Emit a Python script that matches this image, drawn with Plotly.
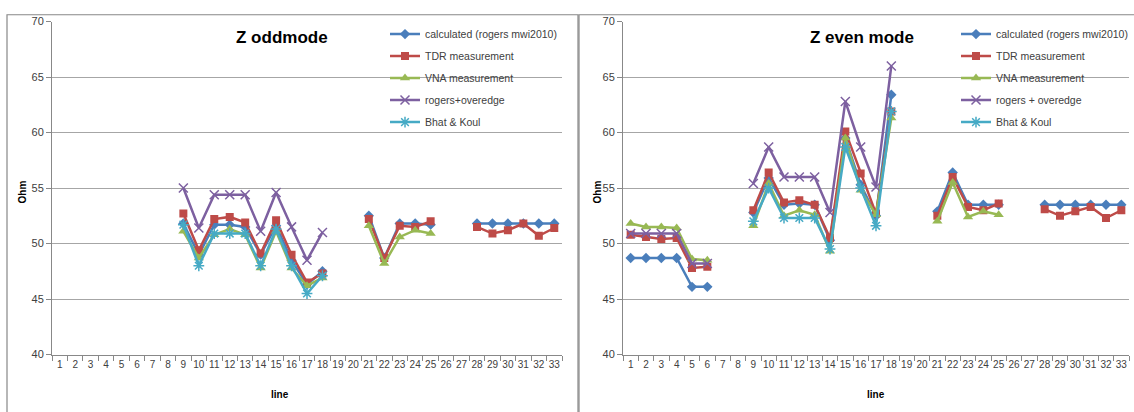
import plotly.graph_objects as go

W, H = 1134, 412

lines = list(range(1, 34))
tick_labels = [str(i) for i in lines]

series_names_odd = ["calculated (rogers mwi2010)", "TDR measurement", "VNA measurement",
                    "rogers+overedge", "Bhat & Koul"]
series_names_even = ["calculated (rogers mwi2010)", "TDR measurement", "VNA measurement",
                     "rogers + overedge", "Bhat & Koul"]

N = None
# ---- Z odd mode (left) ----
calc_odd = [N, N, N, N, N, N, N, N, 51.8, 49.0, 51.7, 51.7, 51.5, 49.0, 51.6, 48.5, 46.3, 47.5,
            N, N, 52.5, 48.7, 51.8, 51.8, 51.7, N, N, 51.8, 51.8, 51.8, 51.8, 51.8, 51.8]
tdr_odd = [N, N, N, N, N, N, N, N, 52.7, 49.4, 52.2, 52.4, 51.9, 49.1, 52.1, 49.0, 46.5, 47.3,
           N, N, 52.2, 48.7, 51.6, 51.5, 52.0, N, N, 51.5, 50.9, 51.2, 51.8, 50.7, 51.4]
vna_odd = [N, N, N, N, N, N, N, N, 51.1, 48.7, 50.8, 51.3, 50.8, 47.8, 51.1, 47.8, 46.2, 46.9,
           N, N, 51.6, 48.2, 50.6, 51.2, 50.9, N, N, N, N, N, N, N, N]
over_odd = [N, N, N, N, N, N, N, N, 55.0, 51.4, 54.4, 54.4, 54.4, 51.1, 54.6, 51.5, 48.5, 51.0,
            N, N, N, N, N, N, N, N, N, N, N, N, N, N, N]
bhat_odd = [N, N, N, N, N, N, N, N, 51.7, 48.0, 50.9, 50.9, 50.9, 48.0, 51.3, 48.0, 45.5, 47.1,
            N, N, N, N, N, N, N, N, N, N, N, N, N, N, N]

# ---- Z even mode (right) ----
calc_even = [48.7, 48.7, 48.7, 48.7, 46.1, 46.1, N, N, 52.8, 55.9, 53.5, 53.6, 53.5, 50.3, 59.5, 55.3, 52.5, 63.4,
             N, N, 52.9, 56.4, 53.5, 53.5, 53.5, N, N, 53.5, 53.5, 53.5, 53.5, 53.5, 53.5]
tdr_even = [50.8, 50.6, 50.4, 50.5, 47.8, 47.9, N, N, 53.0, 56.4, 53.7, 53.9, 53.5, 50.5, 60.1, 56.3, 52.7, 61.9,
            N, N, 52.5, 56.0, 53.3, 53.0, 53.6, N, N, 53.1, 52.5, 52.9, 53.3, 52.3, 53.0]
vna_even = [51.8, 51.5, 51.5, 51.4, 48.6, 48.5, N, N, 51.6, 55.4, 52.5, 53.0, 52.6, 49.3, 59.5, 54.8, 52.6, 61.3,
            N, N, 52.0, 55.5, 52.4, 52.9, 52.6, N, N, N, N, N, N, N, N]
over_even = [50.9, 50.9, 50.9, 50.9, 48.2, 48.2, N, N, 55.4, 58.7, 56.0, 56.0, 56.0, 52.8, 62.8, 58.7, 55.1, 66.0,
             N, N, N, N, N, N, N, N, N, N, N, N, N, N, N]
bhat_even = [N, N, N, N, N, N, N, N, 52.0, 55.0, 52.3, 52.3, 52.3, 49.5, 58.7, 55.0, 51.6, 61.9,
             N, N, N, N, N, N, N, N, N, N, N, N, N, N, N]

colors = ["#4A7EBB", "#BE4B48", "#98B954", "#7D60A0", "#46AAC5"]
markers = [
    dict(symbol="diamond", size=8),
    dict(symbol="square", size=8),
    dict(symbol="triangle-up", size=9),
    dict(symbol="x-thin-open", size=9, line=dict(width=1.5)),
    dict(symbol="asterisk-open", size=9, line=dict(width=1.5)),
]


def px(x):
    return x / W


def py(y):
    return 1 - y / H


FONT = "Liberation Sans Narrow, Liberation Sans, Arial, sans-serif"

fig = go.Figure()

odd = [calc_odd, tdr_odd, vna_odd, over_odd, bhat_odd]
even = [calc_even, tdr_even, vna_even, over_even, bhat_even]

for i, (name, ys) in enumerate(zip(series_names_odd, odd)):
    mk = dict(markers[i])
    mk["color"] = colors[i]
    if "line" in mk:
        mk["line"] = dict(mk["line"], color=colors[i])
    fig.add_trace(go.Scatter(x=lines, y=ys, name=name, mode="lines+markers",
                             line=dict(color=colors[i], width=2.5), marker=mk,
                             connectgaps=False, xaxis="x", yaxis="y",
                             legend="legend", legendgroup="L%d" % i))

for i, (name, ys) in enumerate(zip(series_names_even, even)):
    mk = dict(markers[i])
    mk["color"] = colors[i]
    if "line" in mk:
        mk["line"] = dict(mk["line"], color=colors[i])
    fig.add_trace(go.Scatter(x=lines, y=ys, name=name, mode="lines+markers",
                             line=dict(color=colors[i], width=2.5), marker=mk,
                             connectgaps=False, xaxis="x2", yaxis="y2",
                             legend="legend2", legendgroup="R%d" % i))

y_dom = [py(359), py(16)]

xaxis_common = dict(
    range=[0.5, 33.5], tickmode="array", tickvals=lines, ticktext=tick_labels,
    ticks="", showgrid=False, showline=True, linecolor="#888888", linewidth=1,
    zeroline=False, tickfont=dict(family=FONT, size=10, color="#404040"),
    minor=dict(tickmode="linear", tick0=0.5, dtick=1, ticks="outside", ticklen=5,
               tickcolor="#888888", showgrid=False),
    fixedrange=True,
)
yaxis_common = dict(
    range=[40, 70], tickmode="linear", tick0=40, dtick=5, ticks="outside", ticklen=5,
    tickcolor="#888888", showgrid=True, gridcolor="#A6A6A6", gridwidth=1,
    showline=True, linecolor="#888888", linewidth=1, zeroline=False,
    tickfont=dict(family=FONT, size=11, color="#404040"), fixedrange=True,
)

legend_common = dict(yanchor="top", xanchor="right", bgcolor="rgba(0,0,0,0)",
                     font=dict(family=FONT, size=10.5, color="#404040"),
                     tracegroupgap=3, itemwidth=30)

fig.update_layout(
    width=W, height=H, margin=dict(l=0, r=0, t=0, b=0),
    paper_bgcolor="white", plot_bgcolor="rgba(0,0,0,0)",
    font=dict(family=FONT, color="#404040"),
    xaxis=dict(xaxis_common, domain=[px(52), px(562)], anchor="y"),
    yaxis=dict(yaxis_common, domain=y_dom, anchor="x"),
    xaxis2=dict(xaxis_common, domain=[px(623), px(1129)], anchor="y2"),
    yaxis2=dict(yaxis_common, domain=y_dom, anchor="x2"),
    legend=dict(legend_common, x=px(562), y=py(14)),
    legend2=dict(legend_common, x=px(1133), y=py(14)),
    showlegend=True,
)

# chart frames
fig.add_shape(type="rect", xref="paper", yref="paper", x0=px(7), x1=px(578), y0=py(430), y1=py(9),
              line=dict(color="#888888", width=1.2), layer="below")
fig.add_shape(type="rect", xref="paper", yref="paper", x0=px(579), x1=px(1140), y0=py(430), y1=py(9),
              line=dict(color="#888888", width=1.2), layer="below")

# titles and axis titles
ann = [
    dict(text="<b>Z oddmode</b>", x=px(282), y=py(32), size=17, color="black"),
    dict(text="<b>Z even mode</b>", x=px(862), y=py(32), size=17, color="black"),
    dict(text="<b>line</b>", x=px(280), y=py(400), size=10, color="black"),
    dict(text="<b>line</b>", x=px(876), y=py(400), size=10, color="black"),
]
for a in ann:
    fig.add_annotation(text=a["text"], x=a["x"], y=a["y"], xref="paper", yref="paper",
                       showarrow=False, xanchor="center", yanchor="middle",
                       font=dict(family=FONT, size=a["size"], color=a["color"]))
for xx in (22, 597):
    fig.add_annotation(text="<b>Ohm</b>", x=px(xx), y=py(192), xref="paper", yref="paper",
                       showarrow=False, textangle=-90, xanchor="center", yanchor="middle",
                       font=dict(family=FONT, size=10, color="black"))

fig.write_html("out.html", config={"displayModeBar": False},
               post_script="document.body.style.margin='0px';document.body.style.overflow='hidden';")
